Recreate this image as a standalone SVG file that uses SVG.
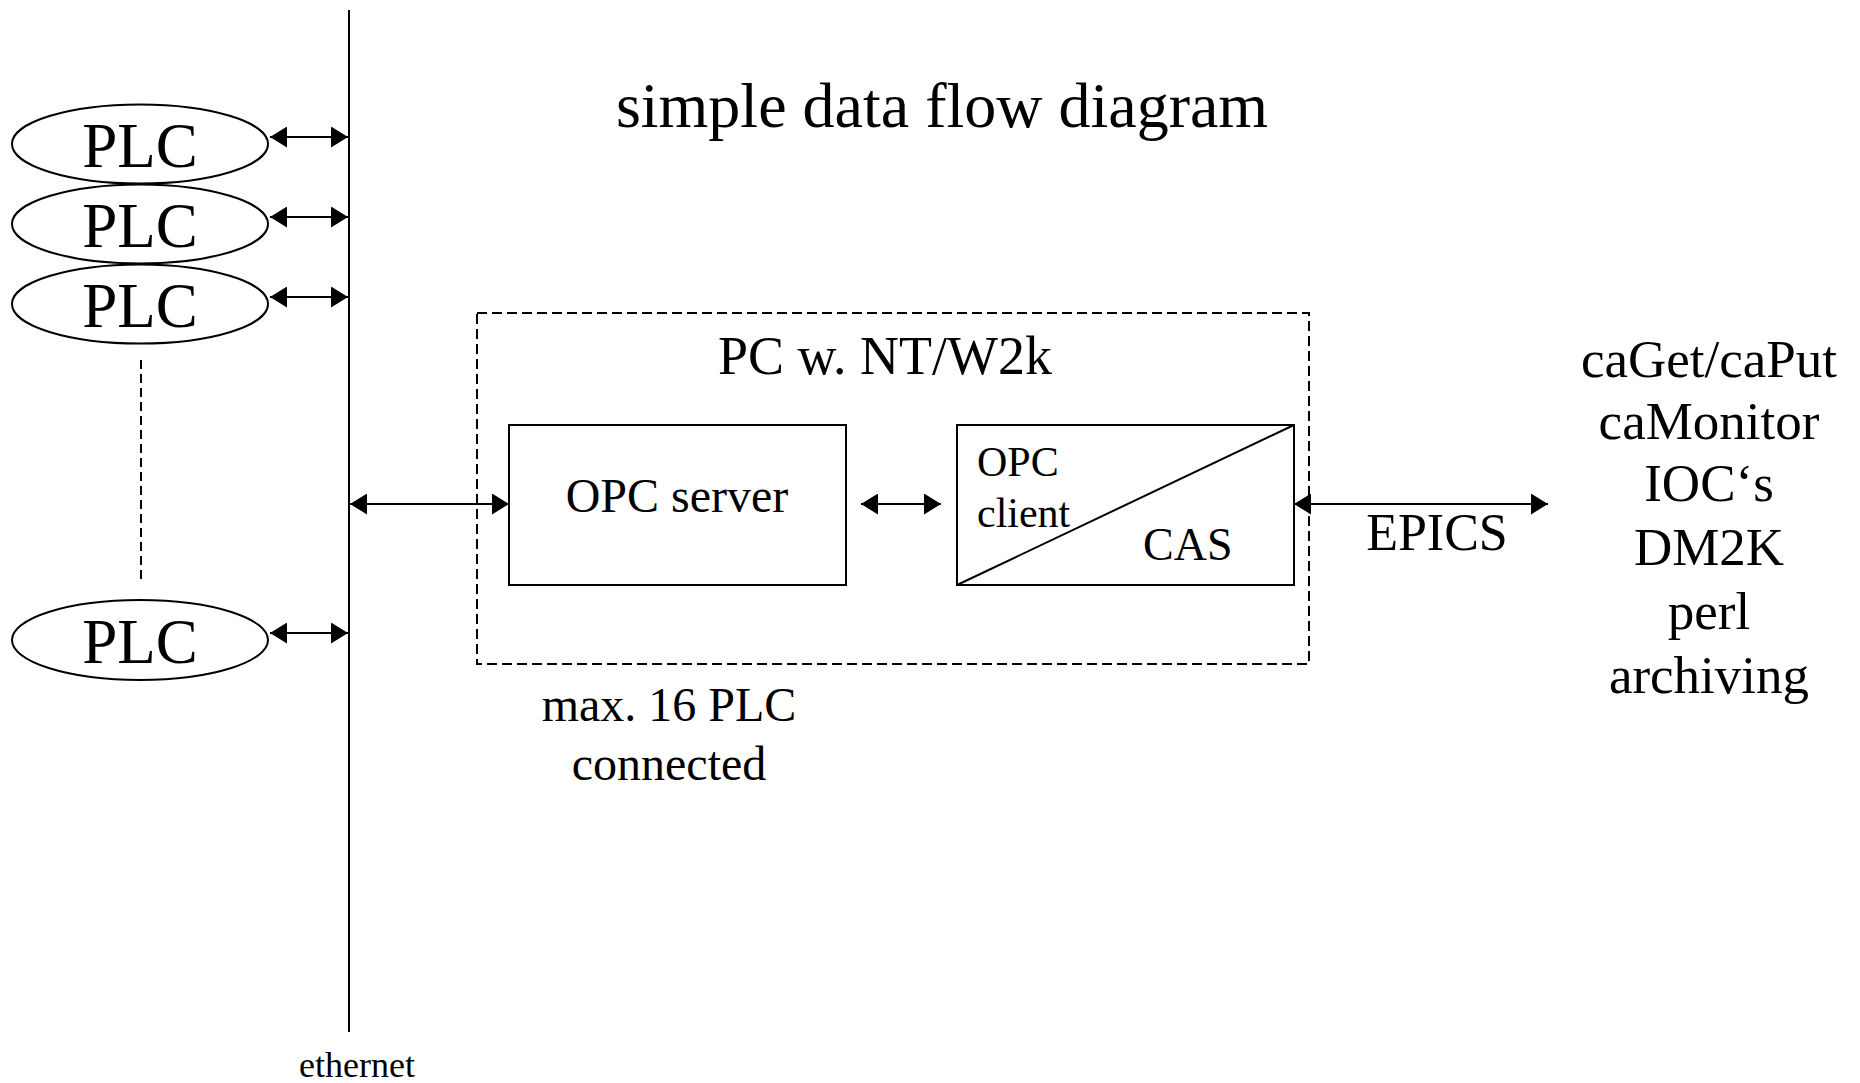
<svg xmlns="http://www.w3.org/2000/svg" width="1860" height="1083" viewBox="0 0 1860 1083">
<style>
text{font-family:"Liberation Serif","Times New Roman",serif;fill:#000}
.plc{font-size:63px;text-anchor:middle}
.shape{fill:#fff;stroke:#000;stroke-width:2}
.conn{fill:none;stroke:#000;stroke-width:2}
.mid{text-anchor:middle}
</style>
<defs>
<marker id="ah" viewBox="0 0 17 21" refX="17" refY="10.5" markerWidth="17" markerHeight="21" markerUnits="userSpaceOnUse" orient="auto-start-reverse">
<path d="M0,0 L17,10.5 L0,21 Z" fill="#000"/>
</marker>
</defs>
<rect width="1860" height="1083" fill="#fff"/>

<g id="title"><text x="942" y="127" font-size="64" class="mid">simple data flow diagram</text></g>

<g id="ethernet">
<line x1="349" y1="10" x2="349" y2="1032" stroke="#000" stroke-width="2"/>
<text x="357" y="1077" font-size="36" class="mid">ethernet</text>
</g>

<g id="plc1"><ellipse class="shape" cx="140" cy="144" rx="128" ry="39.5"/><text class="plc" x="140" y="167">PLC</text></g>
<g id="plc2"><ellipse class="shape" cx="140" cy="224" rx="128" ry="39.5"/><text class="plc" x="140" y="247">PLC</text></g>
<g id="plc3"><ellipse class="shape" cx="140" cy="304" rx="128" ry="39.5"/><text class="plc" x="140" y="327">PLC</text></g>
<g id="plc-more"><line x1="141" y1="360" x2="141" y2="583" stroke="#000" stroke-width="2" stroke-dasharray="9,5"/></g>
<g id="plc4"><ellipse class="shape" cx="140" cy="640" rx="128" ry="40"/><text class="plc" x="140" y="663">PLC</text></g>

<g id="pc">
<rect x="477" y="313" width="832" height="351" fill="none" stroke="#000" stroke-width="2" stroke-dasharray="10,5"/>
<text x="885" y="374" font-size="54" class="mid">PC w. NT/W2k</text>
</g>

<g id="opc-server">
<rect class="shape" x="509" y="425" width="337" height="160"/>
<text x="677" y="512" font-size="48" class="mid">OPC server</text>
</g>

<g id="opc-client-cas">
<rect class="shape" x="957" y="425" width="337" height="160"/>
<line x1="957" y1="585" x2="1294" y2="425" stroke="#000" stroke-width="2"/>
<text x="977" y="476" font-size="42">OPC</text>
<text x="977" y="527" font-size="42">client</text>
<text x="1143" y="560" font-size="46">CAS</text>
</g>

<g id="clients">
<text x="1709" y="377" font-size="53" class="mid">caGet/caPut</text>
<text x="1709" y="439" font-size="53" class="mid">caMonitor</text>
<text x="1709" y="501" font-size="53" class="mid">IOC‘s</text>
<text x="1709" y="565" font-size="53" class="mid">DM2K</text>
<text x="1709" y="629" font-size="53" class="mid">perl</text>
<text x="1709" y="693" font-size="53" class="mid">archiving</text>
</g>

<g id="note">
<text x="669" y="721" font-size="48" class="mid">max. 16 PLC</text>
<text x="669" y="780" font-size="48" class="mid">connected</text>
</g>

<g id="connectors">
<path class="conn" d="M270,137 H348" marker-start="url(#ah)" marker-end="url(#ah)"/>
<path class="conn" d="M270,217 H348" marker-start="url(#ah)" marker-end="url(#ah)"/>
<path class="conn" d="M270,297 H348" marker-start="url(#ah)" marker-end="url(#ah)"/>
<path class="conn" d="M270,633 H348" marker-start="url(#ah)" marker-end="url(#ah)"/>
<path class="conn" d="M350,504 H509" marker-start="url(#ah)" marker-end="url(#ah)"/>
<path class="conn" d="M861,504 H941" marker-start="url(#ah)" marker-end="url(#ah)"/>
<path class="conn" d="M1294,504 H1548" marker-start="url(#ah)" marker-end="url(#ah)"/>
<text x="1437" y="550" font-size="52" class="mid">EPICS</text>
</g>
</svg>
